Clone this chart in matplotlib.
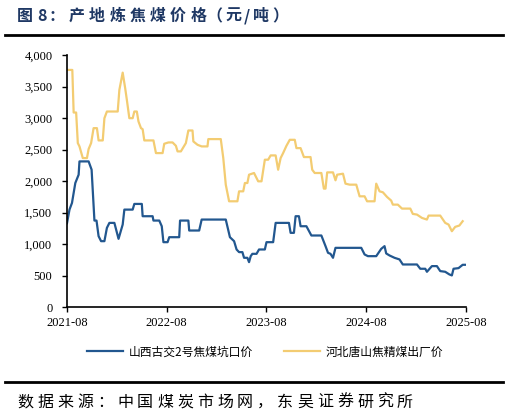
import matplotlib
matplotlib.use("Agg")
import matplotlib.pyplot as plt
from matplotlib.lines import Line2D
from matplotlib.ticker import FuncFormatter

plt.rcParams['font.family'] = ['Liberation Serif', 'Noto Sans CJK SC']
CJK = ["Noto Sans CJK SC", "DejaVu Sans"]

# months since 2021-08
gujiao_x = [0, 0.3, 0.6, 1.0, 1.4, 1.5, 2.6, 2.96, 3.3, 3.55, 3.8, 4.1, 4.5, 4.8, 5.1, 5.7,
            6.2, 6.7, 6.9, 7.9, 8.1, 9.0, 9.1, 10.3, 10.4, 11.1, 11.4, 11.6, 12.1, 12.3,
            13.5, 13.6, 14.6, 14.7, 15.9, 16.2, 19.1, 19.6, 20.1, 20.4, 20.7, 21.1, 21.3,
            21.7, 21.9, 22.1, 22.3, 22.8, 23.1, 23.8, 24.0, 24.8, 25.1, 26.7, 26.9, 27.3,
            27.5, 27.9, 28.1, 28.8, 29.4, 30.6, 31.1, 31.4, 31.7, 32.0, 32.3, 35.4, 35.8,
            36.2, 37.2, 37.8, 38.2, 38.4, 38.8, 39.4, 40.0, 40.4, 42.1, 42.5, 43.1, 43.3,
            43.9, 44.5, 44.9, 45.5, 46.0, 46.3, 46.5, 47.1, 47.6, 48.0]
gujiao_y = [1330, 1546, 1652, 1968, 2100, 2311, 2311, 2180, 1372, 1372, 1124, 1045, 1045, 1256,
            1335, 1335, 1082, 1309, 1546, 1546, 1636, 1636, 1441, 1441, 1372, 1372, 1282, 1029,
            1029, 1108, 1108, 1372, 1372, 1214, 1214, 1388, 1388, 1108, 1045, 913, 871, 871,
            781, 781, 712, 807, 844, 844, 913, 913, 1029, 1029, 1335, 1335, 1177, 1177, 1441,
            1441, 1282, 1282, 1135, 1135, 966, 860, 844, 781, 939, 939, 834, 807, 807, 923,
            966, 850, 818, 781, 755, 675, 675, 607, 607, 559, 649, 649, 570, 559, 517, 501,
            607, 617, 670, 670]

tangshan_x = [0, 0.64, 0.8, 1.1, 1.3, 1.5, 1.9, 2.4, 2.6, 2.9, 3.2, 3.6, 3.8, 4.3, 4.5, 4.8,
              6.1, 6.3, 6.7, 7.0, 7.2, 7.5, 7.9, 8.1, 8.4, 8.6, 8.9, 9.1, 9.3, 10.4, 10.7,
              11.5, 11.7, 12.2, 12.7, 13.1, 13.3, 13.7, 14.3, 14.6, 15.1, 15.2, 15.7, 16.2,
              16.9, 17.0, 18.5, 18.8, 19.1, 19.5, 20.5, 20.7, 21.2, 21.4, 21.7, 21.9, 22.5,
              23.0, 23.4, 23.8, 24.2, 24.5, 25.1, 25.4, 25.7, 26.0, 26.4, 26.8, 27.4, 27.6,
              28.1, 28.5, 29.3, 29.5, 29.8, 30.6, 30.9, 31.1, 31.3, 32.0, 32.3, 32.5, 33.2,
              33.5, 34.0, 34.8, 35.2, 35.8, 36.1, 37.0, 37.2, 37.6, 38.0, 38.5, 39.0, 39.2,
              39.8, 40.3, 41.3, 41.6, 42.1, 42.7, 43.3, 43.5, 44.9, 45.5, 45.9, 46.3, 46.7,
              47.2, 47.6]
tangshan_y = [3763, 3763, 3087, 3087, 2602, 2549, 2364, 2364, 2507, 2602, 2839, 2839, 2644, 2644,
              2997, 3103, 3103, 3446, 3720, 3472, 3288, 2997, 2997, 3103, 3103, 2945, 2839, 2823,
              2644, 2644, 2443, 2443, 2591, 2612, 2612, 2559, 2470, 2470, 2602, 2802, 2802, 2628,
              2575, 2549, 2549, 2665, 2665, 2364, 1942, 1678, 1678, 1836, 1836, 1968, 1968, 2100,
              2127, 1995, 1995, 2338, 2338, 2406, 2406, 2179, 2364, 2443, 2559, 2654, 2654, 2522,
              2522, 2380, 2380, 2179, 2127, 2127, 1879, 1879, 2137, 2137, 2011, 2100, 2116, 1958,
              1942, 1942, 1757, 1757, 1678, 1678, 1958, 1836, 1821, 1747, 1689, 1625, 1625, 1562,
              1562, 1478, 1467, 1414, 1388, 1451, 1451, 1335, 1309, 1203, 1272, 1293, 1362]

tick_pos = [0, 12, 24, 36, 48]
tick_labels = ["2021-08", "2022-08", "2023-08", "2024-08", "2025-08"]

title_main = "图8：产地炼焦煤价格"
title_unit = "（元/吨）"
source = "数据来源：中国煤炭市场网，东吴证券研究所"
names = ["山西古交2号焦煤坑口价", "河北唐山焦精煤出厂价"]

W, H = 509, 417

def spaced_text(fig, x, y, s, adv_full, adv_half, **kw):
  # draw characters one by one, to get the wide letter spacing of the original
  for ch in s:
    fig.text(x / W, 1 - y / H, ch, va="center", ha="left", **kw)
    x += adv_full if ord(ch) > 127 else adv_half

fig = plt.figure(figsize=(W / 100, H / 100), dpi=100)
ax = fig.add_axes([67 / W, 1 - 307 / H, (466 - 67) / W, (307 - 55) / H])

ax.plot(gujiao_x, gujiao_y, color="#22578f", lw=1.6, label=names[0])
ax.plot(tangshan_x, tangshan_y, color="#f3cc72", lw=1.6, label=names[1])

ax.set_xlim(0, 48)
ax.set_ylim(0, 4000)
ax.set_yticks(range(0, 4001, 500))
ax.yaxis.set_major_formatter(FuncFormatter(lambda v, p: f"{int(v):,}"))
ax.set_xticks(tick_pos)
ax.set_xticklabels(tick_labels)
for s in ["top", "right"]:
  ax.spines[s].set_visible(False)
for s in ["left", "bottom"]:
  ax.spines[s].set_linewidth(1.2)
ax.tick_params(axis="both", labelsize=9, length=3.5, width=1, direction="out")
ax.tick_params(axis="y", pad=7)
ax.tick_params(axis="x", pad=4)

# header / footer
tkw = dict(fontsize=11.5, fontweight="bold", color="#1f3864", family=CJK)
spaced_text(fig, 17, 16, title_main, 20.3, 11, **tkw)
spaced_text(fig, 206, 16, title_unit, 19, 9, **tkw)
fig.add_artist(Line2D([5 / W, 503 / W], [1 - 35 / H] * 2, color="black", lw=2))
fig.add_artist(Line2D([5 / W, 503 / W], [1 - 382 / H] * 2, color="black", lw=2))
spaced_text(fig, 17, 402, source, 20, 10, fontsize=11.5, family=CJK)

fig.legend(loc="center", bbox_to_anchor=(265 / W, 1 - 352 / H), ncol=2, frameon=False,
           prop={"family": CJK, "size": 8.5},
           handlelength=3.05, handletextpad=0.42, columnspacing=2.7)

fig.savefig("out.png", dpi=100)
